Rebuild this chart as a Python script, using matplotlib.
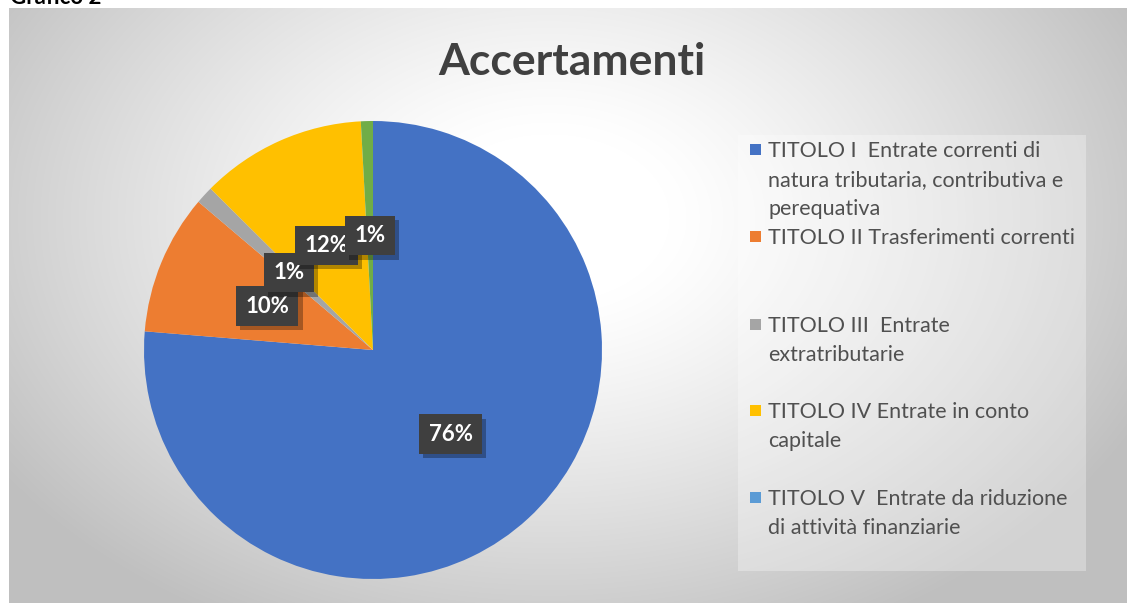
import numpy as np
import matplotlib
matplotlib.use("Agg")
import matplotlib.pyplot as plt
import matplotlib.patheffects as pe
from matplotlib.patches import Rectangle

# ---- data ----
categories = [
    "TITOLO I  Entrate correnti di\nnatura tributaria, contributiva e\nperequativa",
    "TITOLO II Trasferimenti correnti",
    "TITOLO III  Entrate\nextratributarie",
    "TITOLO IV Entrate in conto\ncapitale",
    "TITOLO V  Entrate da riduzione\ndi attività finanziarie",
    "TITOLO VI",
]
values = [76.3, 9.9, 1.25, 11.7, 0.0, 0.85]
colors = ["#4472C4", "#ED7D31", "#A5A5A5", "#FFC000", "#5B9BD5", "#70AD47"]
legend_count = 5
title = "Accertamenti"
caption = "Grafico 2"

W, H = 1127, 603
fig = plt.figure(figsize=(W / 100, H / 100), dpi=100)
fig.patch.set_facecolor("white")

# ---- background gradient (chart area) ----
x0, y0 = 9, 8  # chart area top-left in px
bg = fig.add_axes([x0 / W, 0, 1 - x0 / W, 1 - y0 / H])
bg.set_axis_off()
gw, gh = W - x0, H - y0
yy, xx = np.mgrid[0:gh, 0:gw]
cx, cy = 540, 210
d = np.sqrt(((xx - cx) / 600.0) ** 2 + ((yy - cy) / 420.0) ** 2)
d = np.clip(d, 0, 1.3)
t = np.clip((d - 0.2) / 0.9, 0, 1) ** 1.2
val = 1.0 - t * (1.0 - 0.75)
img = np.dstack([val, val, val])
bg.imshow(img, aspect="auto", extent=[0, gw, gh, 0], interpolation="bilinear")
bg.set_xlim(0, gw)
bg.set_ylim(gh, 0)

# ---- caption (clipped at top, as in the source) ----
fig.text(10 / W, 1 - 4 / H, caption, fontsize=16, fontweight="bold",
         family="Lato", color="black", va="baseline", ha="left")

# ---- title ----
fig.text(572 / W, 1 - 75 / H, title, fontsize=32, fontweight="bold",
         family="Lato", color="#404040", ha="center", va="baseline")

# ---- pie ----
pcx, pcy, R = 373, 350, 229
half = 250
ax = fig.add_axes([(pcx - half) / W, (H - pcy - half) / H, 2 * half / W, 2 * half / H])
ax.set_axis_off()


def fmt(p):
    return "" if p < 0.05 else f"{p:.0f}%"


wedges, texts, autotexts = ax.pie(
    values, colors=colors, startangle=90, counterclock=False,
    autopct=fmt, pctdistance=0.5, radius=1.0,
    wedgeprops=dict(linewidth=0),
)
ax.set_xlim(-half / R, half / R)
ax.set_ylim(-half / R, half / R)
ax.set_aspect("equal")

for at in autotexts:
    if not at.get_text():
        continue
    at.set_color("white")
    at.set_fontsize(16)
    at.set_fontweight("bold")
    at.set_family("Lato")
    at.set_bbox(dict(boxstyle="square,pad=0.42", facecolor="#3f3f3f", edgecolor="none"))
    at.get_bbox_patch().set_path_effects(
        [pe.SimplePatchShadow(offset=(3, -3), shadow_rgbFace="black", alpha=0.3), pe.Normal()])

# ---- legend (manual) ----
lg = fig.add_axes([0, 0, 1, 1])
lg.set_axis_off()
lg.set_xlim(0, W)
lg.set_ylim(H, 0)
lg.add_patch(Rectangle((738, 135), 348, 436, facecolor="white", alpha=0.3, edgecolor="none"))
baselines = [157, 244, 332, 418, 505]
line_h = 28.8
for i in range(legend_count):
    b = baselines[i]
    lg.add_patch(Rectangle((750, b - 13), 11, 11, facecolor=colors[i], edgecolor="none"))
    for j, line in enumerate(categories[i].split("\n")):
        lg.text(768, b + j * line_h, line, fontsize=15.5, family="Lato",
                color="#505050", ha="left", va="baseline")

fig.savefig("out.png", dpi=100)
